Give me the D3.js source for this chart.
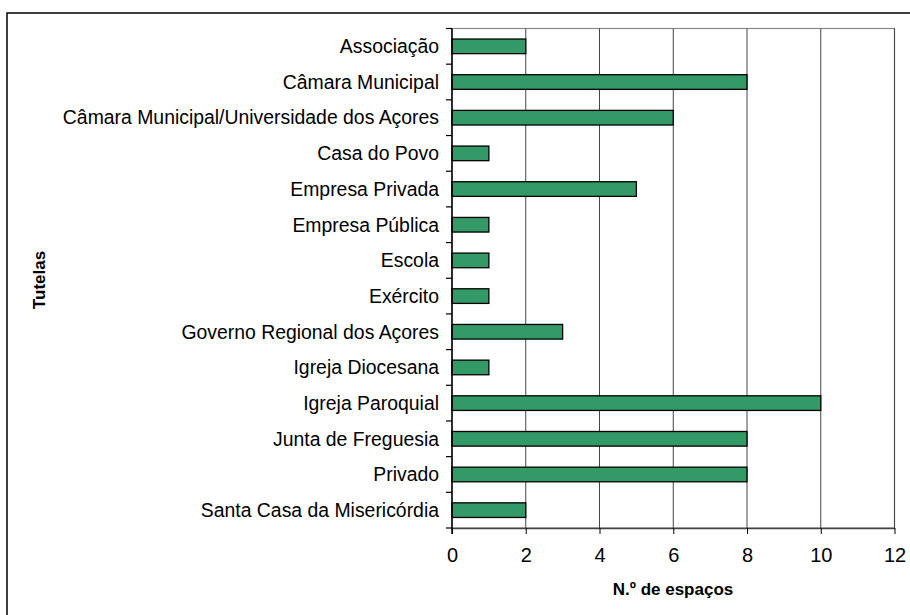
<!DOCTYPE html>
<html>
<head>
<meta charset="utf-8">
<script src="https://cdn.jsdelivr.net/npm/d3@7"></script>
<style>
  html, body { margin: 0; padding: 0; background: #fff; }
  svg { display: block; }
</style>
</head>
<body>
<svg id="chart" width="910" height="615"></svg>
<script>
// Number of spaces per tutelage (governing body)
const categories = [
  "Associação",
  "Câmara Municipal",
  "Câmara Municipal/Universidade dos Açores",
  "Casa do Povo",
  "Empresa Privada",
  "Empresa Pública",
  "Escola",
  "Exército",
  "Governo Regional dos Açores",
  "Igreja Diocesana",
  "Igreja Paroquial",
  "Junta de Freguesia",
  "Privado",
  "Santa Casa da Misericórdia"
];
const values = [2, 8, 6, 1, 5, 1, 1, 1, 3, 1, 10, 8, 8, 2];
const xTicks = [0, 2, 4, 6, 8, 10, 12];

const svg = d3.select("#chart");
const font = "'Liberation Sans', Arial, sans-serif";

// Outer chart frame (runs past the right and bottom edges)
svg.append("rect")
  .attr("x", 7).attr("y", 13)
  .attr("width", 960).attr("height", 700)
  .attr("fill", "#fff")
  .attr("stroke", "#000").attr("stroke-width", 1.5);

const plotLeft = 452, plotRight = 894.5, plotTop = 28.5, plotBottom = 528;

const x = d3.scaleLinear().domain([0, 12]).range([plotLeft, plotRight]);
const y = d3.scaleBand().domain(categories).range([plotTop, plotBottom]).paddingInner(0.59).paddingOuter(0.295);

// Plot area border
svg.append("rect")
  .attr("x", plotLeft).attr("y", plotTop)
  .attr("width", plotRight - plotLeft).attr("height", plotBottom - plotTop)
  .attr("fill", "none").attr("stroke", "#888").attr("stroke-width", 1.2);

// Vertical gridlines
svg.append("g").selectAll("line")
  .data(xTicks.filter(d => d > 0))
  .join("line")
  .attr("x1", d => x(d)).attr("x2", d => x(d))
  .attr("y1", plotTop).attr("y2", plotBottom)
  .attr("stroke", "#444").attr("stroke-width", 1);

// Bars
svg.append("g").selectAll("rect")
  .data(values)
  .join("rect")
  .attr("x", x(0))
  .attr("y", (d, i) => y(categories[i]))
  .attr("width", d => x(d) - x(0))
  .attr("height", y.bandwidth())
  .attr("fill", "#339966")
  .attr("stroke", "#000").attr("stroke-width", 1.3);

// X axis
const xAxis = svg.append("g")
  .attr("transform", `translate(0,${plotBottom})`)
  .call(d3.axisBottom(x).tickValues(xTicks).tickSize(6).tickPadding(14).tickSizeOuter(0));
xAxis.select(".domain").attr("stroke", "#444").attr("stroke-width", 1.5);
xAxis.selectAll(".tick line").attr("stroke", "#000");
xAxis.selectAll("text")
  .attr("font-family", font).attr("font-size", 20).attr("fill", "#000");

// Y axis: ticks on category boundaries, labels centered on bands
const step = y.step();
const boundaries = d3.range(categories.length + 1).map(i => plotTop + i * step);
const yg = svg.append("g");
yg.append("line")
  .attr("x1", plotLeft).attr("x2", plotLeft)
  .attr("y1", plotTop).attr("y2", plotBottom + 6)
  .attr("stroke", "#000").attr("stroke-width", 1.5);
yg.selectAll("line.tick")
  .data(boundaries)
  .join("line")
  .attr("class", "tick")
  .attr("x1", plotLeft - 6).attr("x2", plotLeft)
  .attr("y1", d => d).attr("y2", d => d)
  .attr("stroke", "#000").attr("stroke-width", 1.2);
yg.selectAll("text")
  .data(categories)
  .join("text")
  .attr("x", 439)
  .attr("y", d => y(d) + y.bandwidth() / 2)
  .attr("dy", "0.35em")
  .attr("text-anchor", "end")
  .attr("font-family", font).attr("font-size", 19.4).attr("fill", "#000")
  .text(d => d);

// Axis titles
svg.append("text")
  .attr("x", 673).attr("y", 595)
  .attr("text-anchor", "middle")
  .attr("font-family", font).attr("font-size", 17).attr("font-weight", "bold")
  .text("N.º de espaços");

svg.append("text")
  .attr("transform", `translate(45,280) rotate(-90)`)
  .attr("text-anchor", "middle")
  .attr("font-family", font).attr("font-size", 17).attr("font-weight", "bold")
  .text("Tutelas");
</script>
</body>
</html>
